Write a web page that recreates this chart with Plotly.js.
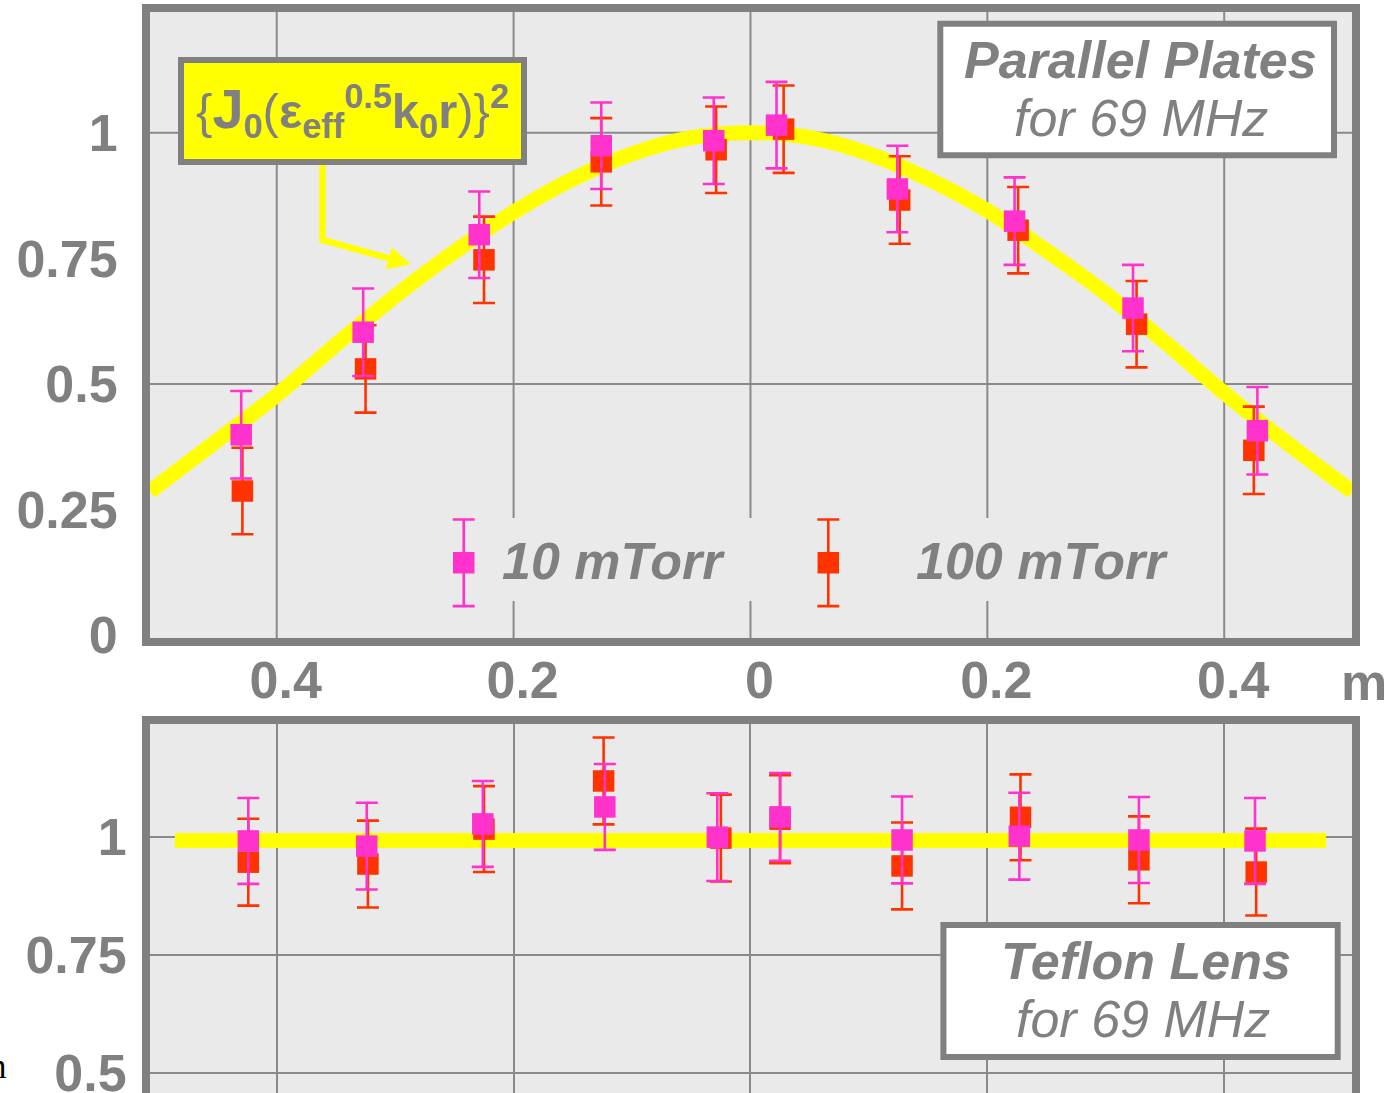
<!DOCTYPE html>
<html>
<head>
<meta charset="utf-8">
<script src="https://cdn.plot.ly/plotly-3.0.1.min.js"></script>
<style>
html,body{margin:0;padding:0;overflow:hidden;background:#ffffff;}
#chart{width:1385px;height:1200px;}
</style>
</head>
<body>
<div id="chart"></div>
<script>
// ---------------- data ----------------
// Parallel plates: fitted curve {J0(eps_eff^0.5 k0 r)}^2
const plateFitX = [-0.507, -0.45, -0.4, -0.35, -0.3, -0.25, -0.2, -0.15, -0.1, -0.05, 0, 0.05, 0.1, 0.15, 0.2, 0.25, 0.3, 0.35, 0.4, 0.45, 0.508];
const plateFitY = [0.286, 0.388, 0.478, 0.578, 0.675, 0.763, 0.842, 0.908, 0.958, 0.990, 1.000, 0.990, 0.958, 0.908, 0.845, 0.765, 0.680, 0.583, 0.482, 0.388, 0.286];

// Parallel plates, 10 mTorr (pink)
const plate10X   = [-0.430, -0.327, -0.229, -0.126, -0.031, 0.022, 0.124, 0.223, 0.323, 0.428];
const plate10Y   = [0.399, 0.603, 0.797, 0.974, 0.984, 1.015, 0.888, 0.824, 0.651, 0.407];
const plate10Err = [0.087, 0.087, 0.086, 0.086, 0.086, 0.086, 0.086, 0.087, 0.086, 0.087];

// Parallel plates, 100 mTorr (red)
const plate100X   = [-0.429, -0.325, -0.225, -0.126, -0.029, 0.028, 0.126, 0.226, 0.326, 0.425];
const plate100Y   = [0.287, 0.530, 0.747, 0.942, 0.966, 1.007, 0.866, 0.806, 0.619, 0.368];
const plate100Err = [0.086, 0.087, 0.086, 0.087, 0.086, 0.087, 0.087, 0.086, 0.086, 0.087];

// Teflon lens: flat reference line
const lensFitX = [-0.486, 0.486];
const lensFitY = [0.992, 0.992];

// Teflon lens, 10 mTorr (pink)
const lens10X   = [-0.424, -0.324, -0.226, -0.123, -0.028, 0.025, 0.128, 0.227, 0.328, 0.426];
const lens10Y   = [0.991, 0.980, 1.027, 1.063, 0.999, 1.042, 0.993, 1.001, 0.993, 0.991];
const lens10Err = [0.091, 0.092, 0.091, 0.091, 0.093, 0.093, 0.092, 0.092, 0.091, 0.091];

// Teflon lens, 100 mTorr (red)
const lens100X   = [-0.424, -0.323, -0.225, -0.124, -0.025, 0.025, 0.128, 0.228, 0.328, 0.427];
const lens100Y   = [0.946, 0.942, 1.016, 1.118, 0.997, 1.037, 0.938, 1.041, 0.951, 0.925];
const lens100Err = [0.092, 0.092, 0.091, 0.092, 0.092, 0.093, 0.092, 0.091, 0.092, 0.092];

// tick labels
const xTickVals = [-0.4, -0.2, 0, 0.2, 0.4];
const xTickText = ['0.4', '0.2', '0', '0.2', '0.4'];
const yTopTickVals = [0, 0.25, 0.5, 0.75, 1];
const yTopTickText = ['0', '0.25', '0.5', '0.75', '1'];
const yTopGridVals = [0.5, 1];
const yBotTickVals = [0.5, 0.75, 1];
const yBotTickText = ['0.5', '0.75', '1'];

// legend entries
const seriesNames = ['10 mTorr', '100 mTorr'];
const legendIconX = [-0.2421, 0.0657];   // legend symbol positions (layout)
const legendIconY = [0.1443, 0.1443];
const legendIconErr = [0.0862, 0.0862];

// ---------------- styling ----------------
const FONT = 'Liberation Sans, Arial, Helvetica, sans-serif';
const GRAY = '#808080';
const GRID = '#8a8a8a';
const BG = '#eaeaea';
const YELLOW = '#ffff00';
const PINK = '#ff33cc';
const RED = '#ff3300';
const MSIZE = 21.5;

function errSeries(x, y, err, color, xa, ya) {
  return {
    type: 'scatter', mode: 'markers', x: x, y: y, xaxis: xa, yaxis: ya,
    marker: {symbol: 'square', size: MSIZE, color: color, line: {width: 0}},
    error_y: {type: 'data', array: err, visible: true, color: color, thickness: 2.6, width: 11},
    hoverinfo: 'x+y', showlegend: false
  };
}

const traces = [
  {type: 'scatter', mode: 'lines', x: plateFitX, y: plateFitY, xaxis: 'x', yaxis: 'y',
   line: {color: YELLOW, width: 15, shape: 'spline'}, showlegend: false, hoverinfo: 'skip'},
  errSeries(plate100X, plate100Y, plate100Err, RED, 'x', 'y'),
  errSeries(plate10X, plate10Y, plate10Err, PINK, 'x', 'y'),
  {type: 'scatter', mode: 'lines', x: lensFitX, y: lensFitY, xaxis: 'x2', yaxis: 'y2',
   line: {color: YELLOW, width: 15}, showlegend: false, hoverinfo: 'skip'},
  errSeries(lens100X, lens100Y, lens100Err, RED, 'x2', 'y2'),
  errSeries(lens10X, lens10Y, lens10Err, PINK, 'x2', 'y2'),
  // legend symbols
  errSeries([legendIconX[0]], [legendIconY[0]], [legendIconErr[0]], PINK, 'x', 'y'),
  errSeries([legendIconX[1]], [legendIconY[1]], [legendIconErr[1]], RED, 'x', 'y')
];

// pixel helpers for layout items (plot area: x 150..1352, y 12..1150)
const W = 1385, H = 1200, ML = 150, MR = 33, MT = 12, MB = 50;
const PW = W - ML - MR, PH = H - MT - MB;
const px = v => (v - ML) / PW;
const py = v => (H - MB - v) / PH;

const tickFont = {family: FONT, size: 52, color: GRAY, weight: 'bold'};
const xRange = [-0.507, 0.5079];
const yTopRange = [-0.0054, 1.2401];
const yBotRange = [0.3362, 1.2387];
const frame = {showline: true, linecolor: GRAY, linewidth: 8, mirror: true, zeroline: false, ticks: ''};

// top-panel grid (vertical at x ticks, horizontal only at 0.5 and 1), drawn under the traces
const gridShapes = [];
xTickVals.forEach(v => gridShapes.push({type: 'line', layer: 'below', xref: 'x', yref: 'y',
  x0: v, x1: v, y0: yTopRange[0], y1: yTopRange[1], line: {color: GRID, width: 2}}));
yTopGridVals.forEach(v => gridShapes.push({type: 'line', layer: 'below', xref: 'x', yref: 'y',
  x0: xRange[0], x1: xRange[1], y0: v, y1: v, line: {color: GRID, width: 2}}));
// legend background that interrupts the grid (in axis units of the top panel)
gridShapes.push({type: 'rect', layer: 'below', xref: 'x', yref: 'y',
  x0: -0.2706, x1: 0.3795, y0: 0.0682, y1: 0.2334, fillcolor: BG, line: {width: 0}});

const thin = s => '<span style="font-weight:normal">' + s + '</span>';
const formulaText = thin('{') + '<span style="font-size:56px">J</span><sub>0</sub>' + thin('(') +
  'ε<sub>eff</sub><sup>0.5</sup>k<sub>0</sub>r' + thin(')}') + '<sup>2</sup>';

const layout = {
  width: W, height: H,
  margin: {l: ML, r: MR, t: MT, b: MB, pad: 0},
  paper_bgcolor: '#ffffff', plot_bgcolor: BG,
  showlegend: false,
  font: {family: FONT, color: GRAY},
  xaxis: Object.assign({domain: [0, 1], anchor: 'y', range: xRange, tickmode: 'array',
    tickvals: xTickVals, ticktext: xTickText, showgrid: false,
    tickfont: tickFont, ticklabelstandoff: -10, ticklabelshift: 9}, frame),
  yaxis: Object.assign({domain: [0.44991, 1], anchor: 'x', range: yTopRange, tickmode: 'array',
    tickvals: yTopTickVals, ticktext: yTopTickText, showgrid: false,
    tickfont: tickFont, ticklabelstandoff: 14}, frame),
  xaxis2: Object.assign({domain: [0, 1], anchor: 'y2', range: xRange, tickmode: 'array',
    tickvals: xTickVals, showticklabels: false, showgrid: true, gridcolor: GRID, gridwidth: 2}, frame),
  yaxis2: Object.assign({domain: [0, 0.37434], anchor: 'x2', range: yBotRange, tickmode: 'array',
    tickvals: yBotTickVals, ticktext: yBotTickText, showgrid: true, gridcolor: GRID, gridwidth: 2,
    tickfont: tickFont, ticklabelstandoff: 5}, frame),
  shapes: gridShapes.concat([
    // Parallel Plates box
    {type: 'rect', layer: 'above', xref: 'paper', yref: 'paper',
     x0: px(940.3), x1: px(1334), y0: py(155.3), y1: py(23.7), fillcolor: '#ffffff', line: {color: GRAY, width: 6}},
    // Teflon Lens box
    {type: 'rect', layer: 'above', xref: 'paper', yref: 'paper',
     x0: px(943.4), x1: px(1337.7), y0: py(1057), y1: py(925), fillcolor: '#ffffff', line: {color: GRAY, width: 6}},
    // vertical part of the formula arrow
    {type: 'line', layer: 'above', xref: 'paper', yref: 'paper',
     x0: px(322.5), x1: px(322.5), y0: py(164), y1: py(243), line: {color: YELLOW, width: 6.5}}
  ]),
  annotations: [
    // formula arrow (diagonal part with head)
    {xref: 'paper', yref: 'paper', x: px(410.7), y: py(264.3), ax: -88.2, ay: -24.3, axref: 'pixel', ayref: 'pixel',
     text: '', showarrow: true, arrowhead: 2, arrowsize: 0.7, arrowwidth: 6.5, arrowcolor: YELLOW, standoff: 0},
    // formula box
    {xref: 'paper', yref: 'paper', x: px(352.2), y: py(110.85), xanchor: 'center', yanchor: 'middle',
     text: formulaText,
     font: {family: FONT, size: 49, color: GRAY, weight: 'bold'}, showarrow: false,
     bgcolor: YELLOW, bordercolor: GRAY, borderwidth: 6, borderpad: 0, width: 337, height: 96},
    // Parallel Plates label
    {xref: 'paper', yref: 'paper', x: px(1140), y: py(59.7), xanchor: 'center', yanchor: 'middle',
     text: 'Parallel Plates', showarrow: false,
     font: {family: FONT, size: 52, color: GRAY, weight: 'bold', style: 'italic'}},
    {xref: 'paper', yref: 'paper', x: px(1141), y: py(118), xanchor: 'center', yanchor: 'middle',
     text: 'for 69 MHz', showarrow: false,
     font: {family: FONT, size: 52, color: GRAY, style: 'italic'}},
    // Teflon Lens label
    {xref: 'paper', yref: 'paper', x: px(1145.5), y: py(960.9), xanchor: 'center', yanchor: 'middle',
     text: 'Teflon Lens', showarrow: false,
     font: {family: FONT, size: 52, color: GRAY, weight: 'bold', style: 'italic'}},
    {xref: 'paper', yref: 'paper', x: px(1142.6), y: py(1019), xanchor: 'center', yanchor: 'middle',
     text: 'for 69 MHz', showarrow: false,
     font: {family: FONT, size: 52, color: GRAY, style: 'italic'}},
    // legend texts
    {xref: 'paper', yref: 'paper', x: px(500), y: py(561), xanchor: 'left', yanchor: 'middle',
     text: seriesNames[0], showarrow: false,
     font: {family: FONT, size: 52, color: GRAY, weight: 'bold', style: 'italic'}},
    {xref: 'paper', yref: 'paper', x: px(913.8), y: py(561), xanchor: 'left', yanchor: 'middle',
     text: seriesNames[1], showarrow: false,
     font: {family: FONT, size: 52, color: GRAY, weight: 'bold', style: 'italic'}},
    // axis unit
    {xref: 'paper', yref: 'paper', x: px(1339.4), y: py(682), xanchor: 'left', yanchor: 'middle',
     text: 'm', showarrow: false, font: {family: FONT, size: 52, color: GRAY, weight: 'bold'}},
    // clipped fragment at left edge
    {xref: 'paper', yref: 'paper', x: px(9), y: py(1066), xanchor: 'right', yanchor: 'middle',
     text: 'n', showarrow: false, font: {family: 'Liberation Serif, Times New Roman, serif', size: 35, color: '#000000'}}
  ]
};

Plotly.newPlot('chart', traces, layout, {displayModeBar: false, staticPlot: true});
</script>
</body>
</html>
